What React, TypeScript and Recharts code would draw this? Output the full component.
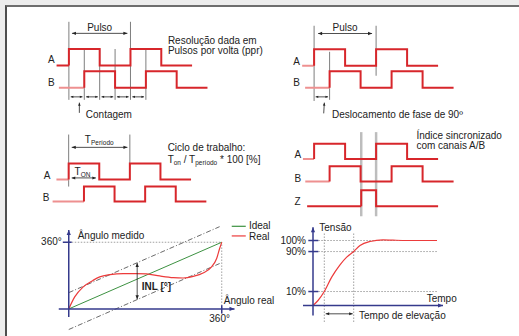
import React from 'react';
import { ComposedChart, XAxis, YAxis, Line, ReferenceLine, ReferenceDot } from 'recharts';

const FONT = '"Liberation Sans", Arial, Helvetica, sans-serif';
const RED = '#d7262b';
const PINK = '#ee9090';
const GRAY = '#7d7d7d';
const NAVY = '#353a8c';
const INK = '#222222';

// ---------------- data ----------------
// Top-left: quadrature channels (time in quarter periods, logic levels)
const tlTimesA = [-0.8, 0, 2, 4, 6, 8];
const tlLevelsA = [0, 1, 0, 1, 0, 0];
const tlTimesB = [-0.65, 1, 3, 5, 7, 9];
const tlLevelsB = [0, 1, 0, 1, 0, 0];
const tlCountSteps = [0, 1, 2, 3, 4];

// Top-right: 90 degree phase shift
const trTimesA = [-0.77, 0, 2, 4, 6, 8];
const trLevelsA = [0, 1, 0, 1, 0, 0];
const trTimesB = [-0.58, 1, 3, 5, 7, 9];
const trLevelsB = [0, 1, 0, 1, 0, 0];

// Middle-left: duty cycle
const mlTimesA = [-0.8, 0, 2, 4, 6, 8];
const mlLevelsA = [0, 1, 0, 1, 0, 0];
const mlTimesB = [-1.05, 1, 3, 5, 7, 9];
const mlLevelsB = [0, 1, 0, 1, 0, 0];

// Middle-right: index channel Z
const mrTimesA = [-0.72, 0, 2, 4, 6, 8];
const mrLevelsA = [0, 1, 0, 1, 0, 0];
const mrTimesB = [-0.57, 1, 3, 5, 7, 9];
const mrLevelsB = [0, 1, 0, 1, 0, 0];
const mrTimesZ = [-0.45, 3.04, 4, 8];
const mrLevelsZ = [0, 1, 0, 0];

// Bottom-left: INL (degrees)
const idealX = [0, 360];
const idealY = [0, 360];
const realX = [0, 14, 34, 57, 73, 97, 128, 159, 183, 214, 246, 269, 293, 316, 336, 348, 355, 360];
const realY = [0, 65, 119, 154, 173, 185, 191, 191, 189, 178, 169, 167, 176, 194, 227, 272, 326, 360];

// Bottom-right: rise time (time units, signal level)
const riseT = [0, 0.5, 1.13, 1.87, 2.7, 3.37, 4.07, 4.7, 5.7, 7.0, 8.0, 9.4, 12.4];
const riseV = [0, 7.7, 21.5, 43.6, 62.6, 74.4, 83, 92.3, 98.5, 101, 100.5, 100, 100];
const levelTicks = [100, 83, 21.5];
const levelLabels = ['100%', '90%', '10%'];
const riseMarks = [1.13, 4.07];

// ---------------- helpers ----------------
type Pt = { t: number; v: number };

function wave(times: number[], levels: number[], base: number, amp: number) {
  const pts: Pt[] = times.map((t, i) => ({ t, v: base + amp * levels[i] }));
  const lead: Pt[] = [pts[0], { t: pts[1].t, v: pts[0].v }];
  const main: Pt[] = [{ t: pts[1].t, v: pts[0].v }, ...pts.slice(1)];
  return { lead, main };
}

function waveLines(key: string, w: { lead: Pt[]; main: Pt[] }, leadColor: string) {
  return [
    <Line key={key + 'l'} data={w.lead} dataKey="v" type="linear" stroke={leadColor} strokeWidth={2} dot={false} isAnimationActive={false} />,
    <Line key={key + 'm'} data={w.main} dataKey="v" type="stepAfter" stroke={RED} strokeWidth={2} dot={false} isAnimationActive={false} />,
  ];
}

type SegOpt = { color?: string; width?: number; dash?: string; start?: boolean; end?: boolean; head?: number };

function seg(key: string, a: [number, number], b: [number, number], o: SegOpt = {}) {
  const color = o.color ?? INK;
  const width = o.width ?? 1;
  const head = o.head ?? 4;
  const shape = (p: any) => {
    const { x1, y1, x2, y2 } = p;
    const dx = x2 - x1, dy = y2 - y1;
    const L = Math.hypot(dx, dy) || 1;
    const ux = dx / L, uy = dy / L, nx = -uy, ny = ux;
    const hw = head * 0.42;
    const tri = (x: number, y: number, sx: number, sy: number) =>
      `${x},${y} ${x - sx * head + nx * hw},${y - sy * head + ny * hw} ${x - sx * head - nx * hw},${y - sy * head - ny * hw}`;
    return (
      <g>
        <line x1={x1} y1={y1} x2={x2} y2={y2} stroke={color} strokeWidth={width} strokeDasharray={o.dash} />
        {o.end ? <polygon points={tri(x2, y2, ux, uy)} fill={color} /> : null}
        {o.start ? <polygon points={tri(x1, y1, -ux, -uy)} fill={color} /> : null}
      </g>
    );
  };
  return (
    <ReferenceLine
      key={key}
      segment={[{ x: a[0], y: a[1] }, { x: b[0], y: b[1] }]}
      ifOverflow="visible"
      shape={shape}
    />
  );
}

type TxtOpt = { anchor?: 'start' | 'middle' | 'end'; size?: number; weight?: string; color?: string };

function txt(key: string, x: number, y: number, content: React.ReactNode, o: TxtOpt = {}) {
  const shape = (p: any) => (
    <text
      x={p.cx}
      y={p.cy}
      textAnchor={o.anchor ?? 'start'}
      fontSize={o.size ?? 10}
      fontFamily={FONT}
      fontWeight={o.weight ?? 'normal'}
      fill={o.color ?? INK}
    >
      {content}
    </text>
  );
  return <ReferenceDot key={key} x={x} y={y} ifOverflow="visible" shape={shape} />;
}

function Panel(props: {
  ox: number; oy: number; ux: number; uy: number;
  xd: [number, number]; yd: [number, number]; children: React.ReactNode;
}) {
  const { ox, oy, ux, uy, xd, yd } = props;
  const left = ox + xd[0] * ux;
  const width = (xd[1] - xd[0]) * ux;
  const top = oy - yd[1] * uy;
  const height = (yd[1] - yd[0]) * uy;
  return (
    <div style={{ position: 'absolute', left, top, width, height }}>
      <ComposedChart width={width} height={height} margin={{ top: 0, right: 0, bottom: 0, left: 0 }}>
        <XAxis type="number" dataKey="t" domain={xd} hide allowDataOverflow />
        <YAxis type="number" domain={yd} hide allowDataOverflow />
        {props.children}
      </ComposedChart>
    </div>
  );
}

export default function App() {
  const tlA = wave(tlTimesA, tlLevelsA, 1.35, 1);
  const tlB = wave(tlTimesB, tlLevelsB, 0, 1);
  const trA = wave(trTimesA, trLevelsA, 1.33, 1);
  const trB = wave(trTimesB, trLevelsB, 0, 1);
  const mlA = wave(mlTimesA, mlLevelsA, 1.375, 1);
  const mlB = wave(mlTimesB, mlLevelsB, 0, 0.94);
  const mrA = wave(mrTimesA, mrLevelsA, 2.95, 0.95);
  const mrB = wave(mrTimesB, mrLevelsB, 1.55, 0.95);
  const mrZ = wave(mrTimesZ, mrLevelsZ, 0, 1);

  const ideal = idealX.map((t, i) => ({ t, v: idealY[i] }));
  const real = realX.map((t, i) => ({ t, v: realY[i] }));
  const rise = riseT.map((t, i) => ({ t, v: riseV[i] }));

  const sub = (s: string) => (
    <tspan fontSize={6.5} dy={2}>{s}</tspan>
  );

  return (
    <div style={{ position: 'absolute', left: 0, top: 0, width: 519, height: 336, background: '#ededed', overflow: 'hidden', fontFamily: FONT }}>
      <style>{`.recharts-surface{overflow:visible}.recharts-wrapper{overflow:visible}`}</style>
      <div style={{ position: 'absolute', left: 5, top: 5, right: -2, bottom: -2, background: '#ffffff', borderLeft: '2px solid #4e4e4e', borderTop: '2px solid #6e6e6e' }} />

      {/* Top-left */}
      <Panel ox={69} oy={88} ux={15.4} uy={16.5} xd={[-2.2, 13]} yd={[-2.6, 5.2]}>
        {[0, 4].map((t) => seg('g' + t, [t, 4.0], [t, -0.73], { color: GRAY }))}
        {[1, 2, 3, 5].map((t) => seg('h' + t, [t, 2.35], [t, -0.73], { color: GRAY }))}
        {waveLines('a', tlA, RED)}
        {waveLines('b', tlB, PINK)}
        {seg('pulso', [0.2, 3.3], [3.8, 3.3], { start: true, end: true, width: 0.8, head: 4 })}
        {tlCountSteps.map((i) => seg('c' + i, [i + 0.12, -0.55], [i + 0.88, -0.55], { start: true, end: true, width: 0.8, head: 2.6 }))}
        {seg('cnt', [0.68, -1.52], [0.68, -0.9], { end: true, width: 0.8, head: 3 })}
        {txt('A', -1.36, 1.52, 'A')}
        {txt('B', -1.36, 0.12, 'B')}
        {txt('p', 2, 3.42, 'Pulso', { anchor: 'middle' })}
        {txt('cg', 1.1, -1.82, 'Contagem')}
        {txt('r1', 6.43, 2.67, 'Resolução dada em')}
        {txt('r2', 6.43, 2.06, 'Pulsos por volta (ppr)')}
      </Panel>

      {/* Top-right */}
      <Panel ox={314} oy={88} ux={15.5} uy={16.5} xd={[-2.2, 12]} yd={[-2.6, 5.2]}>
        {seg('g0', [0, 3.76], [0, -0.8], { color: GRAY })}
        {seg('g4', [4, 3.76], [4, 0.73], { color: GRAY })}
        {seg('g1', [1, 2.18], [1, -0.73], { color: GRAY })}
        {waveLines('a', trA, PINK)}
        {waveLines('b', trB, PINK)}
        {seg('pulso', [0.26, 3.29], [3.74, 3.29], { start: true, end: true, width: 0.8, head: 4 })}
        {seg('ph', [0.1, -0.55], [0.9, -0.55], { start: true, end: true, width: 0.8, head: 2.6 })}
        {seg('ptr', [0.62, -1.55], [0.66, -0.9], { end: true, width: 0.8, head: 3 })}
        {txt('A', -1.35, 1.39, 'A')}
        {txt('B', -1.35, 0.12, 'B')}
        {txt('p', 2, 3.42, 'Pulso', { anchor: 'middle' })}
        {txt('d', 1.16, -1.82, 'Deslocamento de fase de 90º')}
      </Panel>

      {/* Middle-left */}
      <Panel ox={69} oy={202} ux={15.3} uy={16} xd={[-2.2, 13]} yd={[-1.6, 4.6]}>
        {seg('g0', [0, 4.19], [0, 0.94], { color: GRAY })}
        {seg('g4', [4, 4.19], [4, 2.19], { color: GRAY })}
        {waveLines('a', mlA, PINK)}
        {waveLines('b', mlB, PINK)}
        {seg('tp', [0.2, 3.39], [3.84, 3.39], { start: true, end: true, width: 0.8, head: 4 })}
        {seg('ton', [0.2, 1.48], [1.78, 1.48], { start: true, end: true, width: 0.8, head: 3.5 })}
        {txt('A', -1.63, 1.44, 'A')}
        {txt('B', -1.7, 0.06, 'B')}
        {txt('tpl', 2, 3.69, <>T{sub('Período')}</>, { anchor: 'middle' })}
        {txt('tonl', 0.39, 1.69, <>T{sub('ON')}</>)}
        {txt('c1', 6.47, 3.14, 'Ciclo de trabalho:')}
        {txt('c2', 6.47, 2.44, <>T{sub('on')}<tspan dy={-2}> / T</tspan>{sub('período')}<tspan dy={-2}> * 100 [%]</tspan></>)}
      </Panel>

      {/* Middle-right */}
      <Panel ox={314.5} oy={206} ux={15.5} uy={16} xd={[-2.2, 12.8]} yd={[-1, 5.2]}>
        {seg('g3', [3.04, 4.63], [3.04, -0.63], { color: '#bdbdbd', width: 2.5 })}
        {seg('g4', [4, 4.63], [4, -0.63], { color: '#bdbdbd', width: 2.5 })}
        {waveLines('a', mrA, PINK)}
        {waveLines('b', mrB, PINK)}
        {waveLines('z', mrZ, RED)}
        {txt('A', -1.26, 3.0, 'A')}
        {txt('B', -1.26, 1.5, 'B')}
        {txt('Z', -1.26, 0.09, 'Z')}
        {txt('i1', 6.6, 4.19, 'Índice sincronizado')}
        {txt('i2', 6.6, 3.56, 'com canais A/B')}
      </Panel>

      {/* Bottom-left: INL */}
      <Panel ox={69} oy={308.7} ux={0.425} uy={0.1853} xd={[-70, 540]} yd={[-130, 480]}>
        {seg('dh', [0, 360], [360, 360], { color: '#888', width: 0.8, dash: '1.5 1.5' })}
        {seg('dv', [360, 0], [360, 360], { color: '#888', width: 0.8, dash: '1.5 1.5' })}
        {seg('up', [0, 88], [355, 444], { color: '#444', width: 0.8, dash: '5 2 1 2' })}
        {seg('lo', [0, -111], [355, 245], { color: '#444', width: 0.8, dash: '5 2 1 2' })}
        <Line key="ideal" name="Ideal" data={ideal} dataKey="v" type="linear" stroke="#3b9140" strokeWidth={1} dot={false} isAnimationActive={false} />
        <Line key="real" name="Real" data={real} dataKey="v" type="monotone" stroke="#ec3b3b" strokeWidth={1.2} dot={false} isAnimationActive={false} />
        {seg('ya', [0, -43], [0, 426], { color: NAVY, width: 1.5, end: true, head: 5 })}
        {seg('xa', [-23.5, 0], [390, 0], { color: NAVY, width: 1.5, end: true, head: 5 })}
        {seg('yt', [-14, 360], [7, 360], { color: NAVY, width: 1.5 })}
        {seg('xt', [360, -25], [360, 20], { color: NAVY, width: 1.5 })}
        {seg('inl', [161, 248], [161, 52], { start: true, end: true, width: 0.8, head: 4 })}
        {seg('lg1', [383.5, 446], [416.5, 446], { color: '#3b9140', width: 1.2 })}
        {seg('lg2', [383.5, 394], [416.5, 394], { color: '#ec3b3b', width: 1.2 })}
        {txt('y360', -16.5, 347.5, '360°', { anchor: 'end' })}
        {txt('x360', 355, -72, '360°', { anchor: 'middle' })}
        {txt('am', 21, 380, 'Ângulo medido')}
        {txt('ar', 364.7, 25, 'Ângulo real')}
        {txt('inlt', 171.8, 101, 'INL [°]', { weight: 'bold' })}
        {txt('li', 424, 430, 'Ideal')}
        {txt('lr', 424, 374.5, 'Real')}
      </Panel>

      {/* Bottom-right: rise time */}
      <Panel ox={313} oy={305} ux={10} uy={0.65} xd={[-5, 20]} yd={[-35, 130]}>
        {levelTicks.map((v) => seg('dl' + v, [0.53, v], [12.4, v], { color: '#888', width: 0.8, dash: '1.5 1.5' }))}
        {riseMarks.map((t) => seg('dm' + t, [t, 110.8], [t, -26], { color: '#888', width: 0.8, dash: '1.5 1.5' }))}
        <Line key="rise" data={rise} dataKey="v" type="monotone" stroke="#ec3b3b" strokeWidth={1.2} dot={false} isAnimationActive={false} />
        {seg('ya', [0, -15.4], [0, 120.5], { color: NAVY, width: 1.5, end: true, head: 5 })}
        {seg('xa', [-1, 0], [13, 0], { color: NAVY, width: 1.5, end: true, head: 5 })}
        {levelTicks.map((v) => seg('tk' + v, [-0.47, v], [0.53, v], { color: NAVY, width: 1.5 }))}
        {levelTicks.map((v, i) => txt('tl' + v, -0.7, v - 5.4, levelLabels[i], { anchor: 'end' }))}
        {seg('rt', [1.27, -12.8], [3.97, -12.8], { start: true, end: true, width: 0.8, head: 3.5 })}
        {txt('tn', 0.63, 114.3, 'Tensão')}
        {txt('tp', 11.37, 5.1, 'Tempo')}
        {txt('te', 4.6, -20.5, 'Tempo de elevação')}
      </Panel>
    </div>
  );
}
